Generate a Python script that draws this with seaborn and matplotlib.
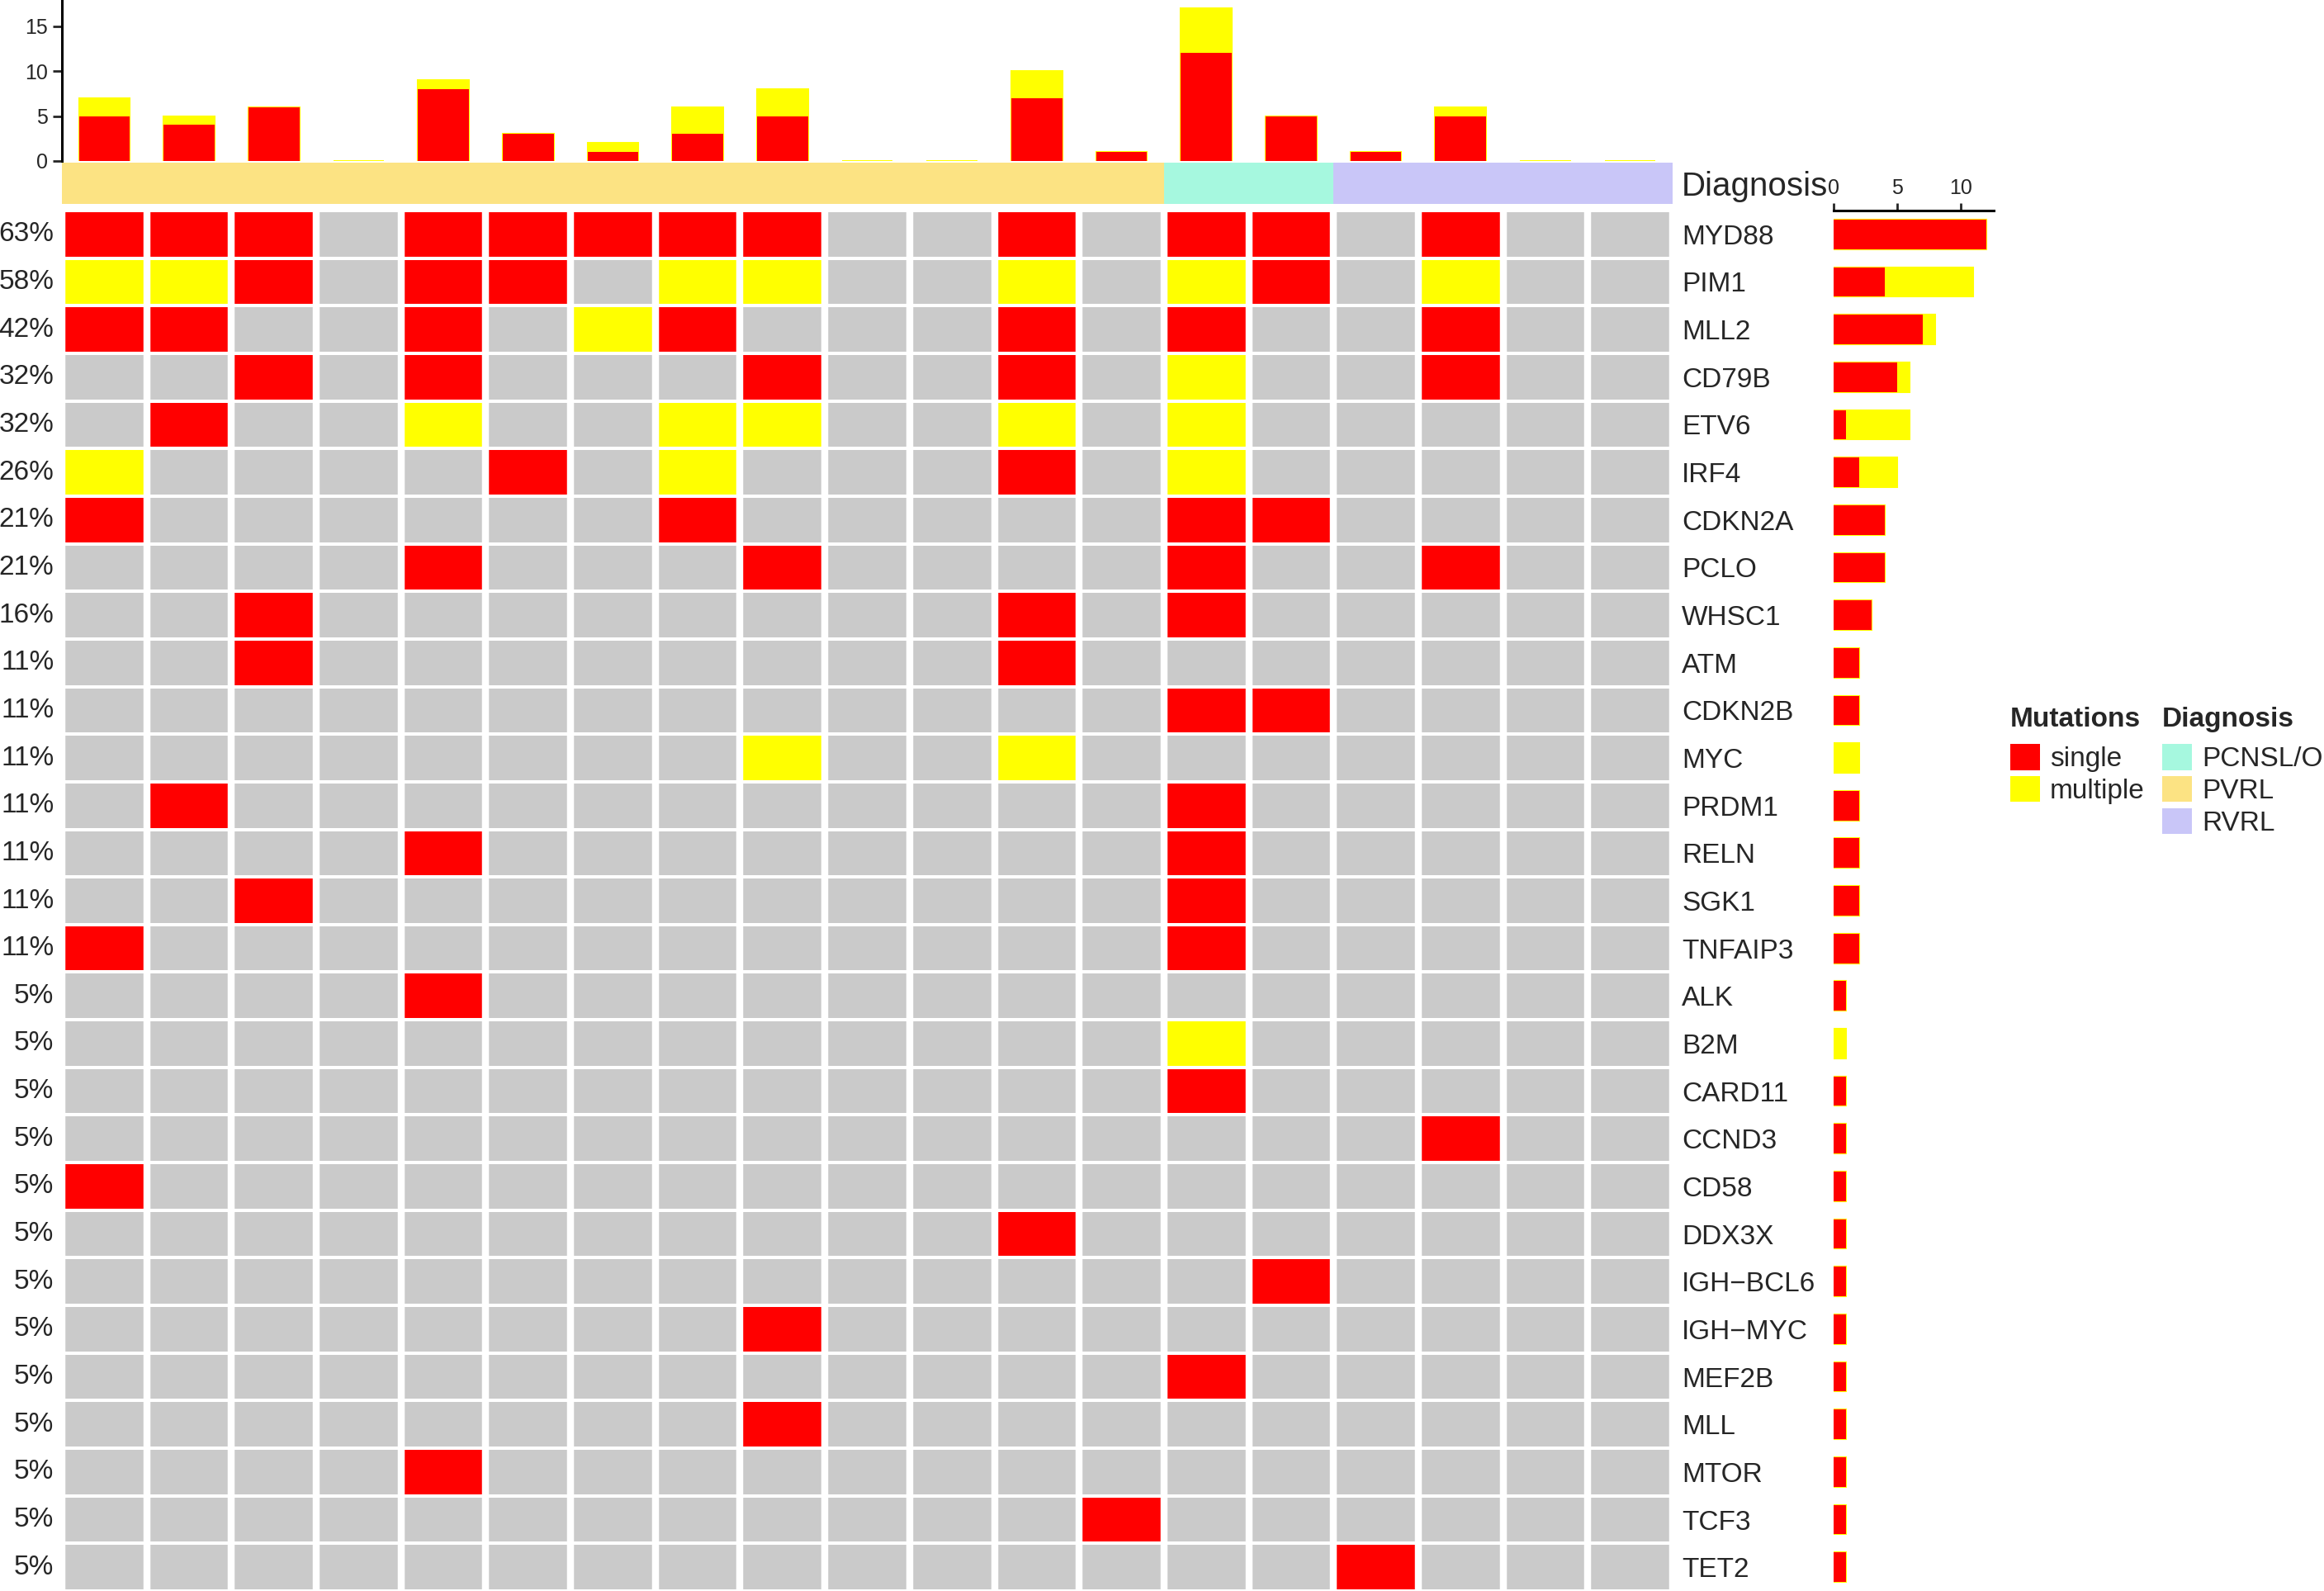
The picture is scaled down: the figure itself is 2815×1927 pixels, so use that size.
import numpy as np
import pandas as pd
import matplotlib
matplotlib.use("Agg")
import matplotlib.pyplot as plt
from matplotlib.colors import ListedColormap
from matplotlib.patches import Patch
import seaborn as sns

# Oncoprint: 29 genes x 19 samples ('.' = none, 'S' = single, 'M' = multiple)
genes = [
    "MYD88", "PIM1", "MLL2", "CD79B", "ETV6", "IRF4", "CDKN2A", "PCLO",
    "WHSC1", "ATM", "CDKN2B", "MYC", "PRDM1", "RELN", "SGK1", "TNFAIP3",
    "ALK", "B2M", "CARD11", "CCND3", "CD58", "DDX3X", "IGH\u2212BCL6",
    "IGH\u2212MYC", "MEF2B", "MLL", "MTOR", "TCF3", "TET2",
]
calls = [
    "SSS.SSSSS..S.SS.S..",
    "MMS.SS.MM..M.MS.M..",
    "SS..S.MS...S.S..S..",
    "..S.S...S..S.M..S..",
    ".S..M..MM..M.M.....",
    "M....S.M...S.M.....",
    "S......S.....SS....",
    "....S...S....S..S..",
    "..S........S.S.....",
    "..S........S.......",
    ".............SS....",
    "........M..M.......",
    ".S...........S.....",
    "....S........S.....",
    "..S..........S.....",
    "S............S.....",
    "....S..............",
    ".............M.....",
    ".............S.....",
    "................S..",
    "S..................",
    "...........S.......",
    "..............S....",
    "........S..........",
    ".............S.....",
    "........S..........",
    "....S..............",
    "............S......",
    "...............S...",
]
samples = [f"S{i}" for i in range(1, 20)]
diagnosis = ["PVRL"] * 13 + ["PCNSL/O"] * 2 + ["RVRL"] * 4

mut_labels = ["single", "multiple"]
diag_levels = ["PCNSL/O", "PVRL", "RVRL"]

red = "#FF0000"
yellow = "#FFFF00"
gray = "#CACACA"
diag_colors = ["#A6F8DF", "#FCE383", "#C9C6F8"]

code = {".": 0, "S": 1, "M": 2}
mat = pd.DataFrame([[code[c] for c in row] for row in calls], index=genes, columns=samples)

samp_single = (mat == 1).sum(axis=0)
samp_total = (mat > 0).sum(axis=0)
gene_single = (mat == 1).sum(axis=1)
gene_total = (mat > 0).sum(axis=1)
pct = [f"{int(round(v))}%" for v in gene_total / len(samples) * 100]

sns.set_theme(style="white")
plt.rcParams["font.family"] = ["Liberation Sans", "DejaVu Sans"]

W, H = 2815, 1927
fig = plt.figure(figsize=(W / 100, H / 100), dpi=100)


def box(x0, y0, x1, y1):
    return [x0 / W, 1 - y1 / H, (x1 - x0) / W, (y1 - y0) / H]


hm_l, hm_r, hm_t, hm_b = 75, 2026, 255, 1927
ax_hm = fig.add_axes(box(hm_l, hm_t, hm_r, hm_b))
ax_top = fig.add_axes(box(hm_l, 0, hm_r, 195))
ax_ann = fig.add_axes(box(hm_l, 197, hm_r, 247))
ax_right = fig.add_axes(box(2221, hm_t, 2415, hm_b))

# main grid
sns.heatmap(mat, ax=ax_hm, cmap=ListedColormap([gray, red, yellow]),
            vmin=-0.5, vmax=2.5, cbar=False, xticklabels=False, yticklabels=pct)
ax_hm.vlines(np.arange(len(samples) + 1), 0, len(genes), color="white", lw=6.1)
ax_hm.hlines(np.arange(len(genes) + 1), 0, len(samples), color="white", lw=2.9)
ax_hm.tick_params(axis="y", length=0, pad=7, labelsize=24, rotation=0)
ax_hm.set_xlabel("")
ax_hm.set_ylabel("")
for i, g in enumerate(genes):
    ax_hm.text(len(samples) + 0.107, i + 0.5, g, ha="left", va="center_baseline", fontsize=24)

# diagnosis annotation
ann = pd.DataFrame([[diag_levels.index(d) for d in diagnosis]], columns=samples)
sns.heatmap(ann, ax=ax_ann, cmap=ListedColormap(diag_colors), vmin=-0.5, vmax=2.5,
            cbar=False, xticklabels=False, yticklabels=False)
ax_ann.set_xlabel("")
ax_ann.set_ylabel("")
ax_ann.text(len(samples) + 0.107, 0.5, "Diagnosis", ha="left", va="center_baseline", fontsize=29)

# top barplot
top_df = pd.DataFrame({"sample": samples, "single": samp_single.values, "total": samp_total.values})
sns.barplot(data=top_df, x="sample", y="total", color=yellow, saturation=1, width=0.6,
            edgecolor=yellow, linewidth=1.5, ax=ax_top)
sns.barplot(data=top_df, x="sample", y="single", color=red, saturation=1, width=0.6,
            linewidth=0, ax=ax_top)
ax_top.set_xlim(-0.5, len(samples) - 0.5)
ax_top.set_ylim(0, 17.9)
ax_top.set_yticks([0, 5, 10, 15])
ax_top.set_xticks([])
ax_top.set_xlabel("")
ax_top.set_ylabel("")
sns.despine(ax=ax_top, bottom=True)
ax_top.spines["left"].set_linewidth(2.2)
ax_top.spines["left"].set_color("black")
ax_top.tick_params(axis="y", left=True, direction="out", length=8, width=2, pad=4, labelsize=18)

# right barplot
right_df = pd.DataFrame({"gene": genes, "single": gene_single.values, "total": gene_total.values})
sns.barplot(data=right_df, y="gene", x="total", orient="y", color=yellow, saturation=1,
            width=0.62, edgecolor=yellow, linewidth=1.5, ax=ax_right)
sns.barplot(data=right_df, y="gene", x="single", orient="y", color=red, saturation=1,
            width=0.62, linewidth=0, ax=ax_right)
ax_right.set_ylim(len(genes) - 0.5, -0.5)
ax_right.set_xlim(0, 12.6)
ax_right.set_yticks([])
ax_right.set_xticks([0, 5, 10])
ax_right.set_xlabel("")
ax_right.set_ylabel("")
for s in ["left", "right", "bottom"]:
    ax_right.spines[s].set_visible(False)
ax_right.spines["top"].set_visible(True)
ax_right.spines["top"].set_linewidth(2.2)
ax_right.spines["top"].set_color("black")
ax_right.xaxis.tick_top()
ax_right.tick_params(axis="x", top=True, bottom=False, direction="out", length=6.5, width=2,
                     pad=4, labelsize=18)

# legends (titles drawn separately so the gap under them matches)
mut_handles = [Patch(facecolor=c, edgecolor="none") for c in [red, yellow]]
diag_handles = [Patch(facecolor=c, edgecolor="none") for c in diag_colors]
leg_kw = dict(loc="upper left", frameon=False, fontsize=24,
              handlelength=1.08, handleheight=1.08, handletextpad=0.36,
              labelspacing=0.14, borderpad=0, borderaxespad=0)
fig.text(2435 / W, 1 - 880 / H, "Mutations", fontsize=24, fontweight="bold",
         ha="left", va="baseline")
fig.legend(mut_handles, mut_labels, bbox_to_anchor=(2435 / W, 1 - 901 / H), **leg_kw)
fig.text(2619 / W, 1 - 880 / H, "Diagnosis", fontsize=24, fontweight="bold",
         ha="left", va="baseline")
fig.legend(diag_handles, diag_levels, bbox_to_anchor=(2619 / W, 1 - 901 / H), **leg_kw)

fig.savefig("out.png", dpi=100)
